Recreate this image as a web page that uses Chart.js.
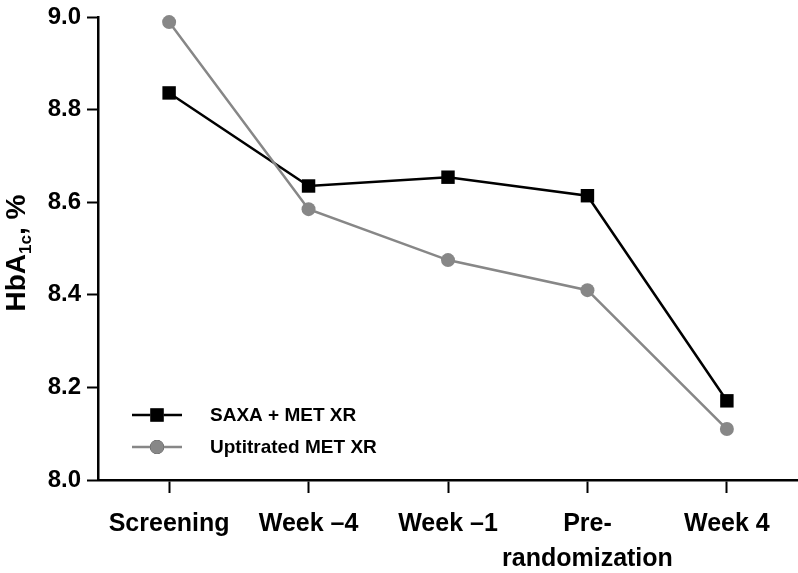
<!DOCTYPE html>
<html>
<head>
<meta charset="utf-8">
<script src="https://cdn.jsdelivr.net/npm/chart.js@4/dist/chart.umd.min.js"></script>
<style>
  html, body { margin: 0; padding: 0; background: #fff; overflow: hidden; }
  #wrap { width: 798px; height: 573px; position: relative; }
</style>
</head>
<body>
<div id="wrap"><canvas id="hba1cChart"></canvas></div>
<script>
const visits = ["Screening", "Week \u20134", "Week \u20131", ["Pre-", "randomization"], "Week 4"];
const saxaMet = [8.836, 8.635, 8.654, 8.614, 8.171];
const uptitratedMet = [8.989, 8.585, 8.475, 8.410, 8.110];
const seriesNames = ["SAXA + MET XR", "Uptitrated MET XR"];
const yTicks = [8.0, 8.2, 8.4, 8.6, 8.8, 9.0];

const FONT = "'Liberation Sans', Arial, sans-serif";
const BLACK = "#000000";
const GREY = "#878787";

const toPoints = arr => arr.map((v, i) => ({ x: i, y: v }));

// y title with subscript, drawn rotated
const yTitlePlugin = {
  id: "yTitle",
  afterDraw(chart) {
    const ctx = chart.ctx;
    const area = chart.chartArea;
    const big = "bold 28px " + FONT;
    const small = "bold 17px " + FONT;
    ctx.save();
    ctx.font = big;
    const w1 = ctx.measureText("HbA").width;
    const w3 = ctx.measureText(", %").width;
    ctx.font = small;
    const w2 = ctx.measureText("1c").width;
    const total = w1 + w2 + w3;
    ctx.translate(25, 253);
    ctx.rotate(-Math.PI / 2);
    ctx.fillStyle = BLACK;
    ctx.textBaseline = "alphabetic";
    let x = -total / 2;
    ctx.font = big;
    ctx.fillText("HbA", x, 0);
    x += w1;
    ctx.font = small;
    ctx.fillText("1c", x, 6);
    x += w2;
    ctx.font = big;
    ctx.fillText(", %", x, 0);
    ctx.restore();
  }
};

// legend drawn inside the plot, lower left
const insideLegend = {
  id: "insideLegend",
  afterDraw(chart) {
    const ctx = chart.ctx;
    const rows = [415, 447];
    ctx.save();
    chart.data.datasets.forEach((ds, i) => {
      const y = rows[i];
      ctx.strokeStyle = ds.borderColor;
      ctx.lineWidth = ds.borderWidth;
      ctx.beginPath();
      ctx.moveTo(132, y);
      ctx.lineTo(182, y);
      ctx.stroke();
      Chart.helpers.drawPoint(ctx, {
        pointStyle: ds.pointStyle,
        radius: ds.pointRadius,
        borderWidth: 0,
        rotation: 0
      }, 157, y);
      ctx.fillStyle = ds.pointBackgroundColor;
      ctx.fill();
      ctx.fillStyle = BLACK;
      ctx.font = "bold 19px " + FONT;
      ctx.textBaseline = "middle";
      ctx.fillText(ds.label, 210, y + 1);
    });
    ctx.restore();
  }
};

new Chart(document.getElementById("hba1cChart"), {
  type: "line",
  data: {
    datasets: [
      {
        label: seriesNames[0],
        data: toPoints(saxaMet),
        borderColor: BLACK,
        backgroundColor: BLACK,
        pointBackgroundColor: BLACK,
        pointBorderColor: BLACK,
        pointStyle: "rect",
        pointRadius: 9.5,
        pointBorderWidth: 0,
        borderWidth: 2.5,
        tension: 0,
        clip: false,
        order: 1
      },
      {
        label: seriesNames[1],
        data: toPoints(uptitratedMet),
        borderColor: GREY,
        backgroundColor: GREY,
        pointBackgroundColor: GREY,
        pointBorderColor: GREY,
        pointStyle: "circle",
        pointRadius: 7,
        pointBorderWidth: 0,
        borderWidth: 2.5,
        tension: 0,
        clip: false,
        order: 0
      }
    ]
  },
  options: {
    responsive: true,
    maintainAspectRatio: false,
    animation: false,
    layout: { autoPadding: false, padding: { top: 17, right: 0, bottom: 0, left: 0 } },
    plugins: {
      legend: { display: false },
      tooltip: { enabled: false },
      title: { display: false }
    },
    scales: {
      x: {
        type: "linear",
        min: -0.51,
        max: 4.51,
        afterBuildTicks: scale => {
          scale.ticks = visits.map((v, i) => ({ value: i }));
        },
        afterFit: scale => {
          scale.height = 93;
          scale.paddingLeft = 0;
          scale.paddingRight = 0;
        },
        grid: {
          drawOnChartArea: false,
          drawTicks: true,
          tickLength: 13,
          tickWidth: 2,
          tickColor: BLACK
        },
        border: { display: true, color: BLACK, width: 2.5 },
        ticks: {
          autoSkip: false,
          maxRotation: 0,
          padding: 14,
          color: BLACK,
          font: { family: FONT, size: 25, weight: "bold", lineHeight: 1.4 },
          callback: value => visits[value]
        }
      },
      y: {
        min: 8.0,
        max: 9.0,
        afterBuildTicks: scale => {
          scale.ticks = yTicks.map(v => ({ value: v }));
        },
        afterFit: scale => {
          scale.width = 98;
          scale.paddingTop = 0;
          scale.paddingBottom = 0;
        },
        grid: {
          drawOnChartArea: false,
          drawTicks: true,
          tickLength: 11,
          tickWidth: 2,
          tickColor: BLACK
        },
        border: { display: true, color: BLACK, width: 2.5 },
        ticks: {
          padding: 6,
          color: BLACK,
          font: { family: FONT, size: 24, weight: "bold" },
          callback: value => value.toFixed(1)
        }
      }
    }
  },
  plugins: [yTitlePlugin, insideLegend]
});
</script>
</body>
</html>
